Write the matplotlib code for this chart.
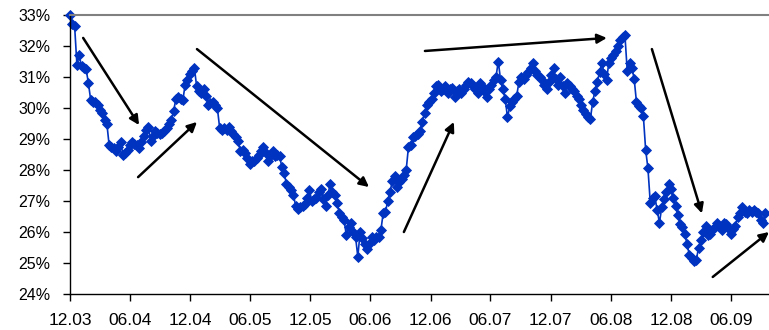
import numpy as np
import pandas as pd
import matplotlib
matplotlib.use('Agg')
import matplotlib.pyplot as plt
import matplotlib.dates as mdates
from matplotlib.ticker import FuncFormatter

plt.rcParams['font.family'] = ['Liberation Sans', 'DejaVu Sans']

# weekly share (%), starting first week of Dec 2003
share = [
    33.0, 32.7, 32.65, 31.4, 31.7, 31.35, 31.3, 31.25, 30.8, 30.25,
    30.2, 30.2, 30.1, 29.95, 29.85, 29.6, 29.5, 28.8, 28.75, 28.7,
    28.6, 28.75, 28.9, 28.5, 28.55, 28.65, 28.8, 28.9, 28.85, 28.8,
    28.7, 28.9, 29.1, 29.3, 29.4, 28.95, 29.1, 29.25, 29.2, 29.15,
    29.2, 29.25, 29.35, 29.5, 29.6, 29.9, 30.3, 30.35, 30.3, 30.25,
    30.75, 30.9, 31.1, 31.2, 31.3, 30.7, 30.55, 30.5, 30.6, 30.4,
    30.1, 30.15, 30.2, 30.1, 30.0, 29.35, 29.3, 29.35, 29.3, 29.4,
    29.25, 29.15, 29.05, 28.95, 28.6, 28.65, 28.55, 28.4, 28.2, 28.3,
    28.3, 28.4, 28.5, 28.6, 28.75, 28.55, 28.3, 28.45, 28.6, 28.45,
    28.5, 28.45, 28.1, 27.9, 27.55, 27.45, 27.35, 27.2, 26.85, 26.75,
    26.8, 26.85, 26.9, 27.1, 27.35, 27.0, 27.05, 27.1, 27.3, 27.4,
    27.05, 26.85, 27.2, 27.55, 27.3, 27.2, 26.95, 26.6, 26.5, 26.4,
    25.9, 26.15, 26.3, 26.0, 25.85, 25.2, 26.0, 25.8, 25.6, 25.45,
    25.6, 25.85, 25.75, 25.85, 25.85, 26.05, 26.6, 26.65, 27.0, 27.3,
    27.65, 27.8, 27.45, 27.6, 27.7, 27.85, 28.0, 28.75, 28.8, 29.05,
    29.1, 29.15, 29.25, 29.55, 29.85, 30.1, 30.2, 30.3, 30.5, 30.7,
    30.75, 30.55, 30.6, 30.7, 30.5, 30.6, 30.65, 30.35, 30.55, 30.6,
    30.5, 30.6, 30.75, 30.85, 30.8, 30.7, 30.6, 30.5, 30.8, 30.7,
    30.55, 30.35, 30.6, 30.75, 30.9, 31.0, 31.5, 30.9, 30.6, 30.3,
    29.7, 30.05, 30.2, 30.3, 30.4, 30.85, 31.0, 30.95, 31.05, 31.15,
    31.3, 31.45, 31.2, 31.05, 31.0, 30.9, 30.75, 30.6, 30.85, 31.05,
    31.3, 30.95, 30.75, 31.0, 30.7, 30.5, 30.8, 30.7, 30.6, 30.55,
    30.4, 30.3, 30.1, 29.95, 29.8, 29.7, 29.65, 30.2, 30.55, 30.85,
    31.15, 31.45, 31.1, 30.9, 31.45, 31.6, 31.7, 31.85, 32.0, 32.2,
    32.3, 32.35, 31.2, 31.45, 31.3, 30.95, 30.2, 30.05, 30.0, 29.75,
    28.65, 28.05, 26.95, 27.1, 27.15, 26.7, 26.3, 26.8, 27.05, 27.3,
    27.55, 27.4, 27.1, 26.85, 26.55, 26.25, 26.15, 25.95, 25.6, 25.25,
    25.15, 25.05, 25.1, 25.5, 25.75, 26.0, 26.2, 25.9, 25.95, 26.05,
    26.15, 26.3, 26.2, 26.05, 26.3, 26.25, 26.1, 25.95, 26.1, 26.2,
    26.5, 26.6, 26.8, 26.65, 26.6, 26.7, 26.65, 26.7, 26.65, 26.6,
    26.4, 26.3, 26.6,
]
start = pd.Timestamp('2003-12-01')
weeks = pd.date_range(start, periods=len(share), freq='7D')

# trend arrows: (from day, from %, to day, to %), days counted from start
arrows = [
    (40, 32.26, 210, 29.45),
    (207, 27.77, 386, 29.55),
    (386, 31.9, 909, 27.45),
    (1015, 26.0, 1167, 29.55),
    (1079, 31.84, 1632, 32.26),
    (1769, 31.9, 1921, 26.6),
    (1954, 24.55, 2125, 26.0),
]

tick_dates = pd.date_range('2003-12-01', '2009-06-01', freq='6MS')

fig = plt.figure(figsize=(7.69, 3.30), dpi=100)
ax = fig.add_axes([70 / 769, 36 / 330, 699 / 769, 279 / 330])

ax.plot(weeks, share, color='#0033C0', lw=1.2, marker='D', markersize=5.5,
        markeredgewidth=0.6, clip_on=False)

for d0, v0, d1, v1 in arrows:
    ax.annotate('', xy=(start + pd.Timedelta(days=d1), v1),
                xytext=(start + pd.Timedelta(days=d0), v0),
                arrowprops=dict(arrowstyle='-|>', color='black', lw=1.8,
                                mutation_scale=14, shrinkA=0, shrinkB=0),
                annotation_clip=False)

ax.set_ylim(24, 33)
ax.set_yticks(np.arange(24, 34, 1))
ax.yaxis.set_major_formatter(FuncFormatter(lambda v, p: '%d%%' % v))
ax.set_xlim(start, start + pd.Timedelta(days=2125))
ax.set_xticks(tick_dates)
ax.xaxis.set_major_formatter(mdates.DateFormatter('%m.%y'))

ax.spines['right'].set_visible(False)
ax.spines['top'].set_color('#808080')
ax.spines['top'].set_linewidth(1.5)
ax.spines['left'].set_linewidth(1.0)
ax.spines['bottom'].set_linewidth(1.0)
ax.tick_params(axis='y', direction='out', length=5, width=1, pad=9, labelsize=11.5)
ax.tick_params(axis='x', direction='out', length=5, width=1, pad=9, labelsize=12.5)

fig.savefig('out.png', dpi=100)
